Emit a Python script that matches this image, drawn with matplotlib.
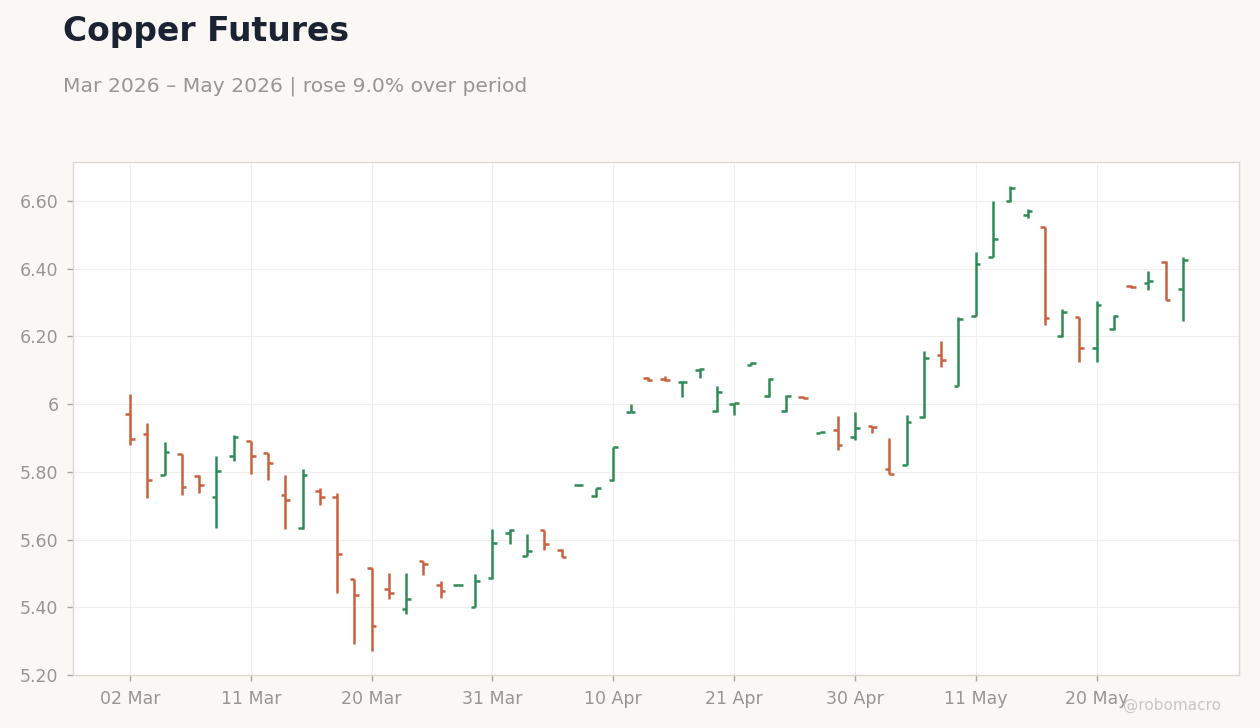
import numpy as np
import pandas as pd
import matplotlib
matplotlib.use("Agg")
import matplotlib.pyplot as plt
from matplotlib.ticker import FuncFormatter

# trading days, Good Friday closed
dates = pd.bdate_range("2026-03-02", "2026-05-27")
dates = dates[dates != pd.Timestamp("2026-04-03")]

opens = [5.970, 5.911, 5.792, 5.852, 5.787, 5.725, 5.846, 5.890, 5.855, 5.731, 5.633, 5.743, 5.725,
         5.483, 5.515, 5.453, 5.394, 5.536, 5.465, 5.466, 5.402, 5.486, 5.620,
         5.551, 5.628, 5.570, 5.760, 5.728, 5.777, 5.977,
         6.076, 6.075, 6.065, 6.100, 5.979, 6.001, 6.115, 6.024, 5.980, 6.022,
         5.916, 5.924, 5.904, 5.934, 5.807, 5.821, 5.961, 6.146,
         6.054, 6.260, 6.435, 6.599, 6.558, 6.522, 6.200, 6.257, 6.165, 6.221, 6.349, 6.358, 6.421, 6.339]
highs = [6.030, 5.945, 5.889, 5.854, 5.792, 5.848, 5.909, 5.891, 5.857, 5.792, 5.809, 5.751, 5.736,
         5.484, 5.516, 5.501, 5.501, 5.537, 5.479, 5.469, 5.499, 5.630, 5.632,
         5.616, 5.628, 5.571, 5.763, 5.753, 5.873, 6.001,
         6.079, 6.083, 6.068, 6.106, 6.053, 6.002, 6.124, 6.077, 6.027, 6.024,
         5.918, 5.966, 5.977, 5.935, 5.901, 5.968, 6.157, 6.187,
         6.258, 6.450, 6.601, 6.645, 6.576, 6.523, 6.281, 6.258, 6.303, 6.262, 6.351, 6.392, 6.422, 6.433]
lows = [5.878, 5.722, 5.791, 5.731, 5.737, 5.634, 5.831, 5.793, 5.775, 5.630, 5.632, 5.702, 5.441,
        5.291, 5.270, 5.424, 5.379, 5.495, 5.427, 5.465, 5.402, 5.484, 5.587,
        5.550, 5.570, 5.547, 5.759, 5.727, 5.774, 5.976,
        6.069, 6.069, 6.021, 6.077, 5.977, 5.968, 6.114, 6.022, 5.977, 6.017,
        5.915, 5.863, 5.893, 5.914, 5.793, 5.819, 5.959, 6.111,
        6.052, 6.259, 6.434, 6.598, 6.549, 6.233, 6.199, 6.123, 6.123, 6.220, 6.343, 6.337, 6.307, 6.245]
closes = [5.896, 5.775, 5.858, 5.755, 5.760, 5.801, 5.904, 5.848, 5.825, 5.716, 5.792, 5.727, 5.556,
          5.435, 5.344, 5.441, 5.424, 5.529, 5.447, 5.467, 5.477, 5.589, 5.628,
          5.567, 5.587, 5.548, 5.761, 5.752, 5.872, 5.978,
          6.071, 6.071, 6.066, 6.104, 6.035, 6.002, 6.122, 6.075, 6.025, 6.018,
          5.917, 5.880, 5.928, 5.933, 5.795, 5.946, 6.137, 6.129,
          6.250, 6.415, 6.487, 6.637, 6.569, 6.253, 6.273, 6.167, 6.292, 6.260, 6.345, 6.363, 6.306, 6.426]

UP = "#2e8b57"
DOWN = "#c8613e"
GREY = "#9a9590"
BG = "#f9f8f5"

o = np.array(opens); h = np.array(highs); l = np.array(lows); c = np.array(closes)
x = np.arange(len(dates))
cols = [UP if cc > oo else DOWN for oo, cc in zip(o, c)]

fig = plt.figure(figsize=(12.6, 7.28), dpi=100, facecolor=BG)
ax = fig.add_axes([0.058, 0.0728, 0.9253, 0.7047])
ax.set_facecolor("white")

tw = 0.27
ax.vlines(x, l, h, colors=cols, linewidth=1.8, zorder=3)
ax.hlines(o, x - tw, x, colors=cols, linewidth=1.8, zorder=3)
ax.hlines(c, x, x + tw, colors=cols, linewidth=1.8, zorder=3)

ax.set_xlim(-3.3, 64.25)
ax.set_ylim(5.20, 6.715)
ax.set_yticks(np.arange(5.2, 6.61, 0.2))
ax.yaxis.set_major_formatter(FuncFormatter(
    lambda v, p: "%d" % round(v) if abs(v - round(v)) < 1e-6 else "%.2f" % v))
tick_idx = list(range(0, len(dates), 7))
ax.set_xticks(tick_idx)
ax.set_xticklabels([dates[i].strftime("%d %b") for i in tick_idx])

ax.grid(True, color="#f0efed", linewidth=0.8, zorder=0)
for s in ax.spines.values():
    s.set_color("#ddd8d0")
    s.set_linewidth(1)
ax.tick_params(colors=GREY, labelsize=12.5, length=4.5, width=1, pad=6)
ax.tick_params(axis="both", color="#aaa59f")

chg = (c[-1] / c[0] - 1) * 100
fig.text(0.05, 0.957, "Copper Futures", fontsize=23.8, fontweight="bold",
         color="#1b2333", va="center")
fig.text(0.05, 0.882, "Mar 2026 \u2013 May 2026 | rose %.1f%% over period" % chg,
         fontsize=14.6, color=GREY, va="center")
fig.text(0.969, 0.031, "@robomacro", fontsize=11, color="#c9c6c1",
         ha="right", va="center")

fig.savefig("out.png", dpi=100, facecolor=BG)
